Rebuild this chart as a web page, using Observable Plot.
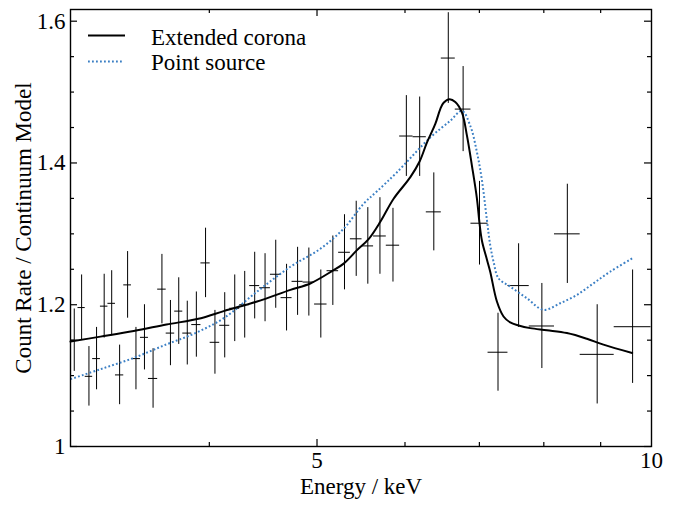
<!DOCTYPE html>
<html>
<head>
<meta charset="utf-8">
<script src="https://cdn.jsdelivr.net/npm/d3@7"></script>
<script src="https://cdn.jsdelivr.net/npm/@observablehq/plot@0.6"></script>
<style>
  html, body { margin: 0; padding: 0; background: #fff; }
  #chart svg { display: block; }
</style>
</head>
<body>
<div id="chart"></div>
<script>
// ---- Data ----
// Energy bin edges (keV)
const binEdges = [3.000, 3.047, 3.093, 3.141, 3.192, 3.242, 3.293, 3.350, 3.404, 3.468,
  3.526, 3.594, 3.658, 3.723, 3.786, 3.857, 3.931, 4.007, 4.087, 4.173,
  4.260, 4.349, 4.440, 4.540, 4.641, 4.748, 4.858, 4.975, 5.105, 5.229,
  5.358, 5.489, 5.622, 5.772, 5.934, 6.101, 6.271, 6.469, 6.659, 6.879,
  7.127, 7.427, 7.762, 8.179, 8.626, 9.256, 9.990];
// Ratio count rate / continuum model per bin
const ratio = [1.150, 1.196, 1.099, 1.124, 1.198, 1.202, 1.101, 1.228, 1.124, 1.154,
  1.096, 1.222, 1.160, 1.191, 1.160, 1.172, 1.259, 1.147, 1.171, 1.195,
  1.200, 1.227, 1.224, 1.243, 1.210, 1.233, 1.232, 1.201, 1.248, 1.274,
  1.293, 1.283, 1.297, 1.284, 1.438, 1.437, 1.331, 1.548, 1.476, 1.315,
  1.133, 1.227, 1.170, 1.300, 1.130, 1.169];
// 1-sigma errors
const ratioErr = [0.044, 0.046, 0.042, 0.044, 0.045, 0.046, 0.042, 0.047, 0.044, 0.046,
  0.042, 0.049, 0.046, 0.047, 0.045, 0.046, 0.049, 0.045, 0.046, 0.047,
  0.047, 0.047, 0.048, 0.048, 0.047, 0.048, 0.048, 0.048, 0.049, 0.053,
  0.053, 0.054, 0.054, 0.052, 0.057, 0.056, 0.055, 0.064, 0.060, 0.059,
  0.055, 0.059, 0.060, 0.070, 0.070, 0.080];

// Model: extended corona
const coronaE = [3.000, 3.192, 3.420, 3.660, 3.931, 4.121, 4.416, 4.732, 4.931, 5.165,
  5.284, 5.432, 5.564, 5.701, 5.860, 6.067, 6.184, 6.280, 6.389, 6.455,
  6.500, 6.581, 6.659, 6.752, 6.822, 6.893, 6.965, 7.003, 7.038, 7.111,
  7.159, 7.259, 7.359, 7.462, 7.592, 7.778, 8.052, 8.392, 8.747, 9.052, 9.607];
const coronaRatio = [1.148, 1.155, 1.163, 1.172, 1.181, 1.191, 1.2045, 1.221, 1.230, 1.248,
  1.258, 1.277, 1.2925, 1.317, 1.3495, 1.380, 1.402, 1.429, 1.455, 1.476,
  1.485, 1.490, 1.486, 1.471, 1.4385, 1.396, 1.3495, 1.314, 1.290, 1.2635,
  1.2466, 1.2045, 1.1834, 1.175, 1.1708, 1.167, 1.164, 1.160, 1.152, 1.1437, 1.132];

// Model: point source
const pointE = [3.000, 3.192, 3.420, 3.660, 3.886, 4.121, 4.416, 4.732, 5.035, 5.284,
  5.507, 5.662, 5.902, 6.323, 6.590, 6.752, 6.869, 6.965, 7.038, 7.111,
  7.159, 7.209, 7.284, 7.462, 7.725, 7.995, 8.276, 8.568, 8.867, 9.179, 9.607];
const pointRatio = [1.095, 1.109, 1.125, 1.144, 1.160, 1.181, 1.2185, 1.2536, 1.279, 1.3074,
  1.3425, 1.360, 1.387, 1.436, 1.4595, 1.4735, 1.4525, 1.415, 1.375, 1.319,
  1.284, 1.2606, 1.2372, 1.2255, 1.2091, 1.1928, 1.2021, 1.2139, 1.2302, 1.2466, 1.2653];

// Tick values and labels
const yMajorTicks = [1, 1.2, 1.4, 1.6];
const yMinorTicks = [1.05, 1.1, 1.15, 1.25, 1.3, 1.35, 1.45, 1.5, 1.55];
const xMajorTicks = [5];
const xMinorTicks = [4, 6, 7, 8, 9];
const xLabelTicks = [5, 10];
const legendLabels = ["Extended corona", "Point source"];
const xLabel = "Energy / keV";
const yLabel = "Count Rate / Continuum Model";

// ---- Build tables ----
const bins = ratio.map((r, i) => ({
  lo: binEdges[i], hi: binEdges[i + 1],
  mid: Math.sqrt(binEdges[i] * binEdges[i + 1]),
  r, e: ratioErr[i]
}));
const corona = coronaE.map((e, i) => ({e, r: coronaRatio[i]}));
const point = pointE.map((e, i) => ({e, r: pointRatio[i]}));

const W = 675, H = 505;
const mL = 70, mR = 24, mT = 9, mB = 59;
const pw = W - mL - mR, ph = H - mT - mB;
const FONT = "'Liberation Serif', 'Times New Roman', 'DejaVu Serif', serif";
const FS = 23;
const BLUE = "#3b7fc4";
const DOTS = "1.8,2.2";

const plot = Plot.plot({
  width: W, height: H,
  marginLeft: mL, marginRight: mR, marginTop: mT, marginBottom: mB,
  style: {fontFamily: FONT, fontSize: FS + "px", background: "#fff", color: "#000"},
  x: {type: "log", domain: [3, 10], axis: null},
  y: {type: "linear", domain: [1, 1.6165], axis: null},
  marks: [
    // error bars
    Plot.ruleX(bins, {x: "mid", y1: d => d.r - d.e, y2: d => d.r + d.e, stroke: "#000", strokeWidth: 1, clip: true}),
    Plot.ruleY(bins, {y: "r", x1: "lo", x2: "hi", stroke: "#000", strokeWidth: 1, clip: true}),
    // models
    Plot.line(point, {x: "e", y: "r", stroke: BLUE, strokeWidth: 2, strokeDasharray: DOTS, strokeLinecap: "butt", curve: "catmull-rom"}),
    Plot.line(corona, {x: "e", y: "r", stroke: "#000", strokeWidth: 2, curve: "catmull-rom"}),
    // inward ticks
    Plot.tickY(yMajorTicks, {y: d => d, insetRight: pw - 7, stroke: "#000", strokeWidth: 1.2}),
    Plot.tickY(yMajorTicks, {y: d => d, insetLeft: pw - 7, stroke: "#000", strokeWidth: 1.2}),
    Plot.tickY(yMinorTicks, {y: d => d, insetRight: pw - 4, stroke: "#000", strokeWidth: 1.2}),
    Plot.tickY(yMinorTicks, {y: d => d, insetLeft: pw - 4, stroke: "#000", strokeWidth: 1.2}),
    Plot.tickX(xMajorTicks, {x: d => d, insetTop: ph - 7, stroke: "#000", strokeWidth: 1.2}),
    Plot.tickX(xMajorTicks, {x: d => d, insetBottom: ph - 7, stroke: "#000", strokeWidth: 1.2}),
    Plot.tickX(xMinorTicks, {x: d => d, insetTop: ph - 4, stroke: "#000", strokeWidth: 1.2}),
    Plot.tickX(xMinorTicks, {x: d => d, insetBottom: ph - 4, stroke: "#000", strokeWidth: 1.2}),
    Plot.frame({stroke: "#000", strokeWidth: 1.4}),
    // tick labels
    Plot.axisY(yMajorTicks, {anchor: "left", tickSize: 0, tickPadding: 5, tickFormat: d => d === 1 ? "1" : d.toFixed(1),
      fontSize: FS, fontFamily: FONT, fill: "#000", label: null}),
    Plot.axisX(xLabelTicks, {anchor: "bottom", tickSize: 0, tickPadding: 5, tickFormat: d => String(d),
      fontSize: FS, fontFamily: FONT, fill: "#000", label: null}),
    // axis titles
    Plot.text([xLabel], {frameAnchor: "bottom", dy: 40, lineAnchor: "middle", textAnchor: "middle", text: d => d,
      fontSize: FS, fontFamily: FONT, fill: "#000"}),
    Plot.text([yLabel], {frameAnchor: "left", dx: -47, rotate: -90, lineAnchor: "middle", textAnchor: "middle", text: d => d,
      fontSize: FS, fontFamily: FONT, fill: "#000"})
  ]
});

// ---- Legend (inside the plot, top-left) ----
const svg = d3.select(plot);
const lg = svg.append("g").attr("font-family", FONT).attr("font-size", FS)
  .attr("fill", "#000").attr("text-anchor", "start");
const legendStyles = [
  {stroke: "#000", dash: null, x2: 125, y: 35.5, ty: 44.5},
  {stroke: BLUE, dash: DOTS, x2: 122, y: 61.5, ty: 70}
];
legendLabels.forEach((lab, i) => {
  const s = legendStyles[i];
  lg.append("line").attr("x1", 88).attr("x2", s.x2).attr("y1", s.y).attr("y2", s.y)
    .attr("stroke", s.stroke).attr("stroke-width", 2).attr("stroke-dasharray", s.dash);
  lg.append("text").attr("x", 151).attr("y", s.ty).attr("text-anchor", "start").text(lab);
});

document.getElementById("chart").appendChild(plot);
</script>
</body>
</html>
